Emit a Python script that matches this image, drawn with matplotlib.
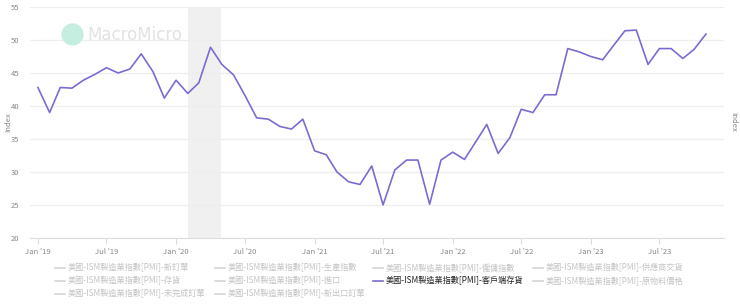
import matplotlib
matplotlib.use("Agg")
import matplotlib.pyplot as plt
from matplotlib.lines import Line2D
import datetime as dt

plt.rcParams['font.family'] = ['Noto Sans CJK TC', 'DejaVu Sans']

start_year, start_month = 2019, 1
values = [42.8, 39.0, 42.8, 42.7, 43.9, 44.8, 45.8, 45.0, 45.6, 47.9, 45.2, 41.2,
          43.9, 41.9, 43.5, 48.9, 46.3, 44.7, 41.6, 38.2, 38.0, 36.9, 36.5, 38.0,
          33.2, 32.6, 30.0, 28.5, 28.1, 30.9, 25.0, 30.3, 31.8, 31.8, 25.1, 31.8,
          33.0, 31.9, 34.4, 37.2, 32.8, 35.2, 39.5, 39.0, 41.7, 41.7, 48.7, 48.2,
          47.5, 47.0, 49.1, 51.4, 51.5, 46.3, 48.7, 48.7, 47.2, 48.6, 50.9]
dates = [dt.date(start_year + (start_month - 1 + i) // 12, (start_month - 1 + i) % 12 + 1, 1)
         for i in range(len(values))]

yticks = [20, 25, 30, 35, 40, 45, 50, 55]
xtick_dates = [dt.date(2019, 1, 1), dt.date(2019, 7, 1), dt.date(2020, 1, 1), dt.date(2020, 7, 1),
               dt.date(2021, 1, 1), dt.date(2021, 7, 1), dt.date(2022, 1, 1), dt.date(2022, 7, 1),
               dt.date(2023, 1, 1), dt.date(2023, 7, 1)]
xtick_labels = ["Jan '19", "Jul '19", "Jan '20", "Jul '20", "Jan '21", "Jul '21",
                "Jan '22", "Jul '22", "Jan '23", "Jul '23"]
recession = (dt.date(2020, 2, 1), dt.date(2020, 4, 30))

prefix = "美國-ISM製造業指數[PMI]-"
legend_names = ["新訂單", "生產指數", "僱傭指數", "供應商交貨",
                "存貨", "進口", "客戶端存貨", "原物料價格",
                "未完成訂單", "新出口訂單"]
active = "客戶端存貨"

line_color = '#7c6bd0'

fig = plt.figure(figsize=(7.4, 3.05), dpi=100)
ax = fig.add_axes([0.041, 0.22, 0.937, 0.757])

ax.axvspan(recession[0], recession[1], color='#f0f0f0', zorder=0, lw=0)
ax.plot(dates, values, color=line_color, lw=1.2, zorder=3)

ax.set_ylim(20, 55)
ax.set_yticks(yticks)
ax.set_xlim(dt.date(2018, 12, 12), dt.date(2023, 12, 18))
ax.set_xticks(xtick_dates)
ax.set_xticklabels(xtick_labels)
ax.grid(axis='y', color='#eeeeee', lw=0.9, zorder=1)
ax.set_axisbelow(True)
for s in ['top', 'right', 'left']:
    ax.spines[s].set_visible(False)
ax.spines['bottom'].set_color('#dddddd')
ax.spines['bottom'].set_linewidth(0.8)
ax.tick_params(axis='y', length=0, labelsize=5.5, labelcolor='#888888', pad=8)
ax.tick_params(axis='x', length=4, color='#dddddd', labelsize=5.5, labelcolor='#888888', pad=3)

fig.text(8 / 740, 0.6, 'Index', rotation=90, fontsize=5.5, color='#888888', ha='center', va='center')
fig.text(733 / 740, 0.6, 'Index', rotation=270, fontsize=5.5, color='#888888', ha='center', va='center')

# watermark
fig.add_artist(Line2D([72 / 740], [1 - 34 / 305], marker='o', markersize=15, color='#c5eee0',
                      lw=0, transform=fig.transFigure, zorder=5))
fig.text(87 / 740, 1 - 35 / 305, 'MacroMicro', fontsize=12, color='#e2e2e2', ha='left', va='center',
         family='DejaVu Sans', zorder=5)

# legend
col_x = [55, 215, 373, 533]
row_y = [268, 281, 294]
for i, name in enumerate(legend_names):
    r, c = divmod(i, 4)
    x = col_x[c] / 740
    y = 1 - row_y[r] / 305
    is_active = (name == active)
    lc = line_color if is_active else '#d6d6d6'
    tc = '#222222' if is_active else '#c4c4c4'
    fig.add_artist(Line2D([x, x + 10 / 740], [y, y], color=lc, lw=1.2, transform=fig.transFigure))
    fig.text(x + 13 / 740, y, prefix + name, fontsize=5.9, color=tc, ha='left', va='center')

fig.savefig('out.png', dpi=100)
